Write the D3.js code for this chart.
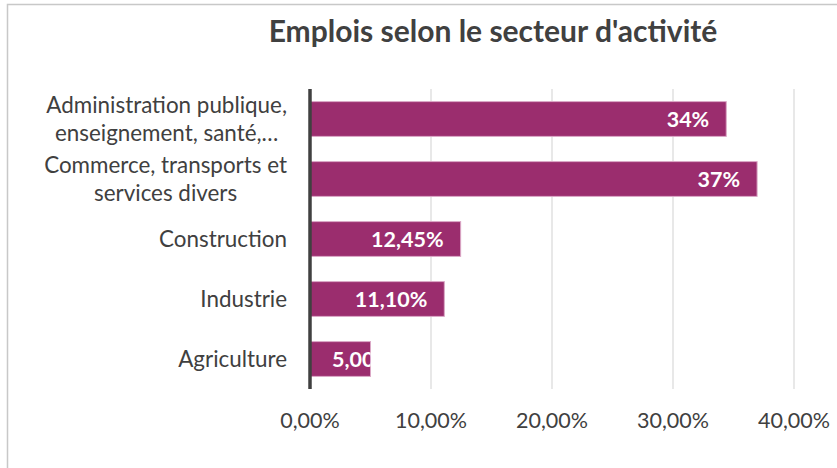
<!DOCTYPE html>
<html>
<head>
<meta charset="utf-8">
<script src="https://cdn.jsdelivr.net/npm/d3@7"></script>
<style>
  body { margin: 0; background: #fff; }
  svg { display: block; font-family: Lato, "Open Sans", sans-serif; }
</style>
</head>
<body>
<div id="chart"></div>
<script>
// Emplois par secteur (top to bottom)
const sectors = [
    ["Administration publique,", "enseignement, santé,…"],
    ["Commerce, transports et", "services divers"],
    ["Construction"],
    ["Industrie"],
    ["Agriculture"]
];
const shares = [34.4, 36.95, 12.45, 11.1, 5.0];
const shareLabels = ["34%", "37%", "12,45%", "11,10%", "5,00%"];
const tickValues = [0, 10, 20, 30, 40];
const tickLabels = ["0,00%", "10,00%", "20,00%", "30,00%", "40,00%"];

const width = 837;
const height = 468;
const margin = { top: 89, right: 43, bottom: 79, left: 310 };

const svg = d3.select("#chart").append("svg")
    .attr("width", width)
    .attr("height", height);

// chart frame (only top/left edges fall inside the picture)
svg.append("rect")
    .attr("x", 7.5).attr("y", 4.5)
    .attr("width", 900).attr("height", 600)
    .attr("fill", "none")
    .attr("stroke", "#c8c8c8")
    .attr("stroke-width", 1.5);

svg.append("text")
    .attr("x", 493).attr("y", 42)
    .attr("text-anchor", "middle")
    .attr("font-size", 30)
    .attr("font-weight", "bold")
    .attr("fill", "#404040")
    .text("Emplois selon le secteur d'activité");

const x = d3.scaleLinear()
    .domain([0, 40])
    .range([margin.left, margin.left + 484]);

const y = d3.scaleBand()
    .domain(d3.range(sectors.length))
    .range([margin.top, height - margin.bottom])
    .paddingInner(0.42)
    .paddingOuter(0.21);

// vertical gridlines
svg.append("g")
    .selectAll("line")
    .data(tickValues.slice(1))
    .join("line")
    .attr("x1", d => x(d)).attr("x2", d => x(d))
    .attr("y1", margin.top).attr("y2", height - margin.bottom)
    .attr("stroke", "#d9d9d9")
    .attr("stroke-width", 1.2);

// x tick labels
svg.append("g")
    .selectAll("text")
    .data(tickValues)
    .join("text")
    .attr("x", d => x(d))
    .attr("y", 428)
    .attr("text-anchor", "middle")
    .attr("font-size", 21.5)
    .attr("fill", "#404040")
    .text((d, i) => tickLabels[i]);

svg.append("defs").selectAll("clipPath")
    .data(shares)
    .join("clipPath")
    .attr("id", (d, i) => `bar-clip-${i}`)
    .append("rect")
    .attr("x", x(0))
    .attr("y", (d, i) => y(i))
    .attr("width", d => x(d) - x(0))
    .attr("height", y.bandwidth());

const bars = svg.append("g")
    .selectAll("g")
    .data(shares)
    .join("g");

bars.append("rect")
    .attr("x", x(0))
    .attr("y", (d, i) => y(i))
    .attr("width", d => x(d) - x(0))
    .attr("height", y.bandwidth())
    .attr("fill", "#9b2d6e")
    .attr("stroke", "#dba8c6")
    .attr("stroke-width", 1);

// labels sit inside the bar end; the short one overflows and is clipped
bars.append("text")
    .attr("clip-path", (d, i) => `url(#bar-clip-${i})`)
    .attr("y", (d, i) => y(i) + y.bandwidth() / 2)
    .attr("dy", "0.36em")
    .attr("font-size", 21.5)
    .attr("font-weight", "bold")
    .attr("fill", "#fff")
    .text((d, i) => shareLabels[i])
    .each(function (d) {
        const w = this.getComputedTextLength();
        const end = x(d) - 17;
        if (end - w < x(0) + 14) {
            d3.select(this).attr("x", x(0) + 22).attr("text-anchor", "start");
        } else {
            d3.select(this).attr("x", end).attr("text-anchor", "end");
        }
    });

// y axis line
svg.append("line")
    .attr("x1", x(0)).attr("x2", x(0))
    .attr("y1", margin.top).attr("y2", height - margin.bottom)
    .attr("stroke", "#404040")
    .attr("stroke-width", 3.5);

// category labels: wrapped lines centred on each other, block right-aligned
const lineGap = 27.5;
const catRight = 287;
svg.append("g")
    .selectAll("text")
    .data(sectors)
    .join("text")
    .attr("font-size", 22.4)
    .attr("fill", "#404040")
    .attr("text-anchor", "middle")
    .each(function (lines, i) {
        const label = d3.select(this);
        const cy = y(i) + y.bandwidth() / 2;
        const top = cy - (lines.length - 1) * lineGap / 2;
        lines.forEach((line, k) => {
            label.append("tspan")
                .attr("y", top + k * lineGap)
                .attr("dy", "0.36em")
                .text(line);
        });
        let widest = 0;
        label.selectAll("tspan").each(function () {
            widest = Math.max(widest, this.getComputedTextLength());
        });
        label.selectAll("tspan").attr("x", catRight - widest / 2);
    });
</script>
</body>
</html>
